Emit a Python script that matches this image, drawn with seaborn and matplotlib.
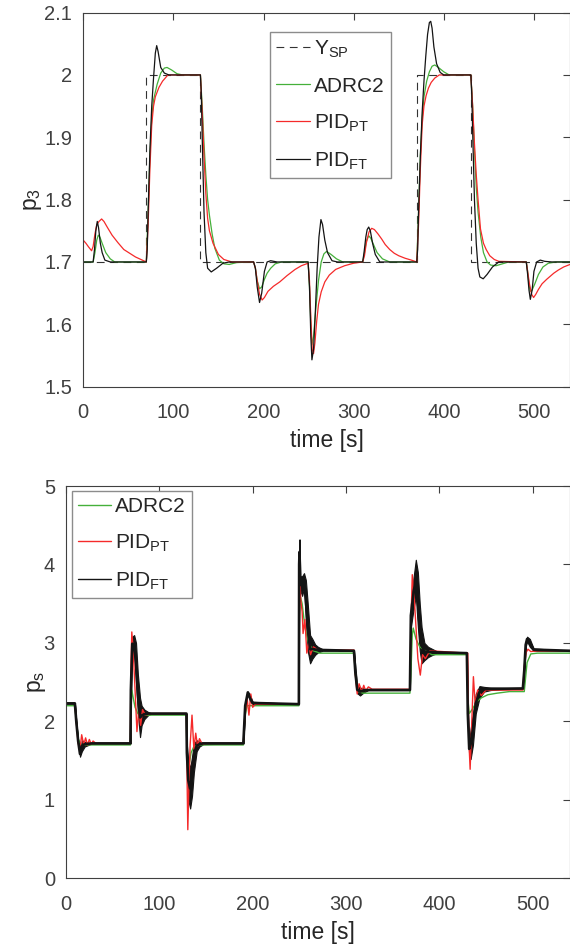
import numpy as np
import pandas as pd
import matplotlib
matplotlib.use("Agg")
import matplotlib.pyplot as plt
import seaborn as sns

# ---- top panel: p3 ----
sp_t = [0, 70, 70, 130, 130, 370, 370, 430, 430, 540]
sp_p3 = [1.7, 1.7, 2.0, 2.0, 1.7, 1.7, 2.0, 2.0, 1.7, 1.7]

ft_t = [0, 11, 12.5, 14, 15.6, 17, 19, 21, 24, 30, 70, 71, 72, 74, 76, 78, 80, 81.5, 83, 86, 90, 95,
        130, 131, 132, 134, 136, 138, 142, 148, 155, 162, 189, 191, 193, 195.6, 198, 201, 204, 208, 215,
        249.5, 251, 252.5, 253.7, 255.5, 257.5, 259.5, 261.5, 263.7, 265.5, 268, 271, 276, 282,
        310, 311.5, 313.5, 315, 316.7, 318.5, 321, 324, 329,
        370, 371, 372, 374, 376, 378, 380, 382, 384, 385.5, 387, 389, 392, 396, 400,
        430, 431, 432, 434, 436, 438, 440, 443.7, 448, 454, 461,
        491.5, 493, 494.5, 496, 498, 500, 503, 507, 512, 520, 540]
ft_p3 = [1.70, 1.70, 1.72, 1.75, 1.765, 1.755, 1.73, 1.715, 1.703, 1.70, 1.70, 1.72, 1.78, 1.88, 1.95, 1.995,
         2.035, 2.047, 2.038, 2.012, 2.003, 2.0,
         2.0, 1.97, 1.90, 1.78, 1.715, 1.69, 1.684, 1.69, 1.698, 1.70, 1.70, 1.69, 1.66, 1.635, 1.65, 1.685,
         1.70, 1.702, 1.70,
         1.70, 1.66, 1.58, 1.543, 1.56, 1.62, 1.69, 1.74, 1.768, 1.76, 1.735, 1.715, 1.702, 1.70,
         1.70, 1.715, 1.74, 1.752, 1.756, 1.75, 1.73, 1.712, 1.70,
         1.70, 1.72, 1.78, 1.87, 1.94, 1.99, 2.03, 2.065, 2.084, 2.086, 2.075, 2.045, 2.018, 2.004, 2.0,
         2.0, 1.97, 1.91, 1.80, 1.73, 1.69, 1.676, 1.673, 1.68, 1.692, 1.70,
         1.70, 1.68, 1.655, 1.640, 1.655, 1.685, 1.70, 1.703, 1.701, 1.70, 1.70]

adrc_t = [0, 11, 13, 15, 16.7, 18.5, 21, 25, 30, 35, 70, 72, 74, 76, 78, 82, 86, 90, 93, 98, 104, 110,
          130, 132, 134, 136, 138, 140, 143, 146, 151, 156, 162, 170,
          189, 191, 193, 195.6, 198, 201, 204, 208, 213, 220,
          249.5, 251, 252.5, 253.7, 255.5, 258, 261, 264, 267, 270, 275, 281, 288,
          310, 312, 314, 316.7, 319, 322, 326, 332, 340,
          370, 372, 374, 376, 378, 381, 384, 387, 390, 394, 400, 406,
          430, 432, 434, 436, 438, 441, 444, 448, 452, 458, 465, 472,
          491.5, 493, 494.5, 496, 498, 501, 505, 510, 516, 524, 540]
adrc_p3 = [1.70, 1.70, 1.715, 1.735, 1.743, 1.74, 1.73, 1.715, 1.705, 1.70, 1.70, 1.78, 1.87, 1.93, 1.96,
           1.985, 2.003, 2.011, 2.012, 2.008, 2.002, 2.0,
           2.0, 1.95, 1.89, 1.84, 1.80, 1.775, 1.745, 1.722, 1.703, 1.697, 1.696, 1.699,
           1.70, 1.69, 1.67, 1.657, 1.66, 1.672, 1.682, 1.69, 1.697, 1.70,
           1.70, 1.66, 1.60, 1.567, 1.58, 1.625, 1.67, 1.70, 1.713, 1.717, 1.712, 1.705, 1.70,
           1.70, 1.715, 1.733, 1.742, 1.738, 1.728, 1.715, 1.705, 1.70,
           1.70, 1.78, 1.87, 1.93, 1.965, 1.99, 2.005, 2.014, 2.016, 2.012, 2.005, 2.0,
           2.0, 1.95, 1.88, 1.82, 1.78, 1.74, 1.715, 1.70, 1.695, 1.694, 1.697, 1.70,
           1.70, 1.685, 1.663, 1.653, 1.655, 1.665, 1.68, 1.692, 1.698, 1.70, 1.70]

pt_t = [0, 3, 6, 9.3, 11, 13, 15, 17.5, 20.4, 23, 27, 32, 38.5, 45, 51.5, 58, 64,
        70, 72, 74, 76, 78, 80, 84, 88, 94,
        130, 132, 134, 136, 138, 140, 144, 150, 156, 165,
        189, 191, 193, 195.6, 198.5, 201, 205, 211, 218, 226, 235, 242,
        249.5, 251, 252.5, 254, 255.5, 257, 259, 261, 264, 268, 273, 280, 290, 300,
        310, 312, 314, 317, 320, 323, 327, 331, 335, 340, 345, 350, 357, 364,
        370, 372, 374, 376, 378, 380.4, 383, 386, 390, 395,
        430, 432, 434, 436, 438, 440.7, 444, 447, 451, 456, 461,
        491.5, 493, 495, 497.5, 499.6, 502, 505, 509, 514, 518, 522, 527, 533, 540]
pt_p3 = [1.735, 1.73, 1.724, 1.718, 1.725, 1.745, 1.76, 1.765, 1.769, 1.765, 1.755, 1.743, 1.731, 1.72,
         1.714, 1.708, 1.704,
         1.70, 1.76, 1.85, 1.92, 1.95, 1.965, 1.98, 1.99, 2.0,
         2.0, 1.94, 1.87, 1.81, 1.77, 1.75, 1.73, 1.712, 1.704, 1.70,
         1.70, 1.69, 1.67, 1.648, 1.639, 1.643, 1.653, 1.661, 1.668, 1.678, 1.688, 1.694,
         1.698, 1.67, 1.61, 1.56, 1.553, 1.57, 1.605, 1.632, 1.652, 1.668, 1.679, 1.688, 1.694, 1.698,
         1.70, 1.71, 1.73, 1.748, 1.754, 1.752, 1.745, 1.737, 1.728, 1.72, 1.714, 1.71, 1.706, 1.703,
         1.70, 1.76, 1.85, 1.92, 1.95, 1.967, 1.979, 1.988, 1.995, 2.0,
         2.0, 1.95, 1.89, 1.84, 1.80, 1.753, 1.73, 1.72, 1.71, 1.704, 1.701,
         1.70, 1.685, 1.665, 1.648, 1.643, 1.648, 1.656, 1.665, 1.672, 1.677, 1.682, 1.687, 1.692, 1.696]

# ---- bottom panel: ps ----
adrc_ps_t = [0, 9.5, 11, 13, 16, 20, 69, 69.6, 70.5, 72, 74, 77, 82,
             129, 129.5, 130.5, 132, 134, 137, 142, 150, 190, 191.5, 194, 198,
             249.5, 250, 251, 253, 256, 260, 265, 272, 308.5, 310, 313, 318, 325,
             368.5, 369.5, 371, 372, 375, 379, 385, 392,
             429.5, 430.5, 432, 435, 440, 445, 452, 462, 475, 489.5, 491, 494, 498, 505, 540]
adrc_ps = [2.20, 2.20, 2.0, 1.78, 1.70, 1.70, 1.70, 2.2, 2.40, 2.30, 2.18, 2.10, 2.08,
           2.08, 1.6, 1.35, 1.45, 1.60, 1.68, 1.70, 1.70, 1.70, 2.05, 2.20, 2.20,
           2.20, 3.3, 3.6, 3.5, 3.2, 3.0, 2.9, 2.87, 2.87, 2.6, 2.38, 2.36, 2.36,
           2.36, 2.6, 3.1, 3.19, 3.05, 2.95, 2.90, 2.85,
           2.85, 2.3, 2.10, 2.15, 2.25, 2.30, 2.34, 2.36, 2.38, 2.38, 2.38, 2.75, 2.86, 2.87, 2.87]

pt_ps_t = [0, 9.5, 11, 13, 15, 16.8, 19, 21, 23, 25, 27, 29, 32, 36,
           69, 69.5, 70.5, 72, 74, 76, 78, 80, 82, 85, 90,
           129, 129.8, 130.5, 131.5, 133, 135, 137, 139, 141, 143, 146, 150,
           190, 191.5, 194, 196, 198, 200, 203,
           249.5, 250.4, 251.5, 253, 254, 256, 258, 260, 262, 265, 270,
           308.5, 310, 312, 314, 317, 319, 321, 324, 328,
           368.5, 369.5, 371, 373, 375, 377, 379.6, 382, 385, 390,
           429.5, 430.5, 431.5, 433, 434.8, 436.5, 438.5, 441, 445, 450,
           489.5, 491, 493, 495, 498, 505, 540]
pt_ps = [2.23, 2.23, 2.0, 1.72, 1.65, 1.83, 1.70, 1.79, 1.70, 1.77, 1.71, 1.75, 1.72, 1.72,
         1.72, 2.6, 3.14, 2.9, 2.4, 1.87, 2.15, 1.95, 2.15, 2.08, 2.10,
         2.10, 1.2, 0.62, 1.1, 1.7, 2.08, 1.65, 1.85, 1.68, 1.78, 1.71, 1.72,
         1.72, 2.05, 2.30, 2.08, 2.35, 2.18, 2.22,
         2.22, 3.90, 3.55, 3.40, 3.12, 3.3, 2.87, 3.0, 2.85, 2.95, 2.91,
         2.91, 2.6, 2.35, 2.48, 2.38, 2.46, 2.39, 2.44, 2.41,
         2.41, 3.2, 3.87, 3.6, 3.2, 2.8, 2.59, 2.85, 2.80, 2.90,
         2.87, 2.87, 1.8, 1.39, 2.0, 2.57, 2.2, 2.4, 2.33, 2.40,
         2.40, 2.7, 2.88, 2.92, 2.89, 2.90, 2.90]

# PID_FT oscillates fast: keep lower / upper edge of the band it fills
ft_ps_t = [0, 9.5, 11, 13, 15, 17, 20, 24, 28,
           69, 69.5, 71, 73, 75, 77, 79.3, 81, 84, 88, 92,
           129, 129.5, 131, 133, 135, 137, 140, 143, 147,
           190, 192, 194.8, 197, 200,
           249.5, 249.8, 250.2, 251, 253, 255, 257, 259, 261.5, 264, 267, 270, 275,
           308.5, 310, 312, 315, 319, 324,
           368.5, 369.5, 372, 374.8, 377, 379, 381, 384, 388, 393, 398,
           429.5, 430.5, 432, 433.5, 436, 439, 443, 448, 455,
           489.5, 491, 492.5, 494, 497, 501, 540]
ft_ps_lo = [2.23, 2.23, 2.0, 1.75, 1.55, 1.62, 1.68, 1.70, 1.72,
            1.72, 2.2, 2.9, 2.85, 2.5, 2.1, 1.80, 1.95, 2.03, 2.08, 2.10,
            2.10, 1.5, 1.0, 0.89, 1.05, 1.35, 1.62, 1.68, 1.71,
            1.72, 2.2, 2.36, 2.26, 2.22,
            2.22, 3.9, 4.0, 3.67, 3.6, 3.7, 3.3, 2.9, 2.74, 2.80, 2.85, 2.88, 2.90,
            2.90, 2.55, 2.36, 2.33, 2.37, 2.40,
            2.40, 3.2, 3.4, 3.6, 3.2, 2.9, 2.74, 2.78, 2.82, 2.85, 2.87,
            2.87, 2.0, 1.55, 1.52, 1.7, 2.1, 2.3, 2.38, 2.40,
            2.42, 2.6, 2.95, 3.02, 2.95, 2.90, 2.90]
ft_ps_hi = [2.23, 2.23, 2.0, 1.75, 1.62, 1.76, 1.74, 1.73, 1.72,
            1.72, 2.6, 3.08, 3.10, 3.0, 2.6, 2.3, 2.2, 2.15, 2.12, 2.10,
            2.10, 1.7, 1.5, 1.4, 1.55, 1.72, 1.76, 1.74, 1.73,
            1.72, 2.2, 2.38, 2.34, 2.25,
            2.22, 4.1, 4.32, 3.85, 3.85, 3.89, 3.8, 3.5, 3.1, 3.05, 2.98, 2.95, 2.92,
            2.90, 2.7, 2.45, 2.43, 2.42, 2.40,
            2.40, 3.5, 3.8, 4.06, 3.9, 3.5, 3.2, 3.0, 2.95, 2.92, 2.89,
            2.87, 2.2, 1.75, 1.9, 2.1, 2.35, 2.45, 2.44, 2.43,
            2.42, 2.7, 3.0, 3.08, 3.05, 2.93, 2.90]

c_green = "#45b03a"
c_red = "#f52a2a"
c_black = "#141414"
c_axis = "#404040"

sns.set_style("white")
plt.rcParams["font.family"] = ["Liberation Sans", "DejaVu Sans"]
plt.rcParams["mathtext.default"] = "regular"
plt.rcParams["axes.edgecolor"] = c_axis
plt.rcParams["xtick.color"] = c_axis
plt.rcParams["ytick.color"] = c_axis
plt.rcParams["text.color"] = "#262626"
plt.rcParams["axes.labelcolor"] = "#262626"

fig = plt.figure(figsize=(5.7, 9.47), dpi=100)
ax1 = fig.add_axes([0.146, 0.5917, 0.854, 0.395])
ax2 = fig.add_axes([0.1158, 0.0725, 0.8842, 0.4143])

lw = 0.9
sns.lineplot(x=sp_t, y=sp_p3, ax=ax1, color="#333333", lw=0.8, ls=(0, (7, 5)),
             estimator=None, sort=False, label="Y$_{SP}$")
sns.lineplot(x=adrc_t, y=adrc_p3, ax=ax1, color=c_green, lw=lw, estimator=None, label="ADRC2")
sns.lineplot(x=pt_t, y=pt_p3, ax=ax1, color=c_red, lw=lw, estimator=None, label="PID$_{PT}$")
sns.lineplot(x=ft_t, y=ft_p3, ax=ax1, color=c_black, lw=lw, estimator=None, label="PID$_{FT}$")

ax1.set_xlim(0, 540)
ax1.set_ylim(1.5, 2.1)
ax1.set_yticks(np.arange(1.5, 2.101, 0.1))
ax1.set_yticklabels(["1.5", "1.6", "1.7", "1.8", "1.9", "2", "2.1"])
ax1.set_ylabel("p$_3$", fontsize=16.5)
ax1.yaxis.set_label_coords(-0.08, 0.5)

ft_long = pd.DataFrame({
    "t": ft_ps_t + ft_ps_t,
    "ps": ft_ps_lo + ft_ps_hi,
})
sns.lineplot(x=adrc_ps_t, y=adrc_ps, ax=ax2, color=c_green, lw=1.0, estimator=None, label="ADRC2")
sns.lineplot(x=pt_ps_t, y=pt_ps, ax=ax2, color=c_red, lw=1.0, estimator=None, label="PID$_{PT}$")
sns.lineplot(data=ft_long, x="t", y="ps", ax=ax2, color=c_black, lw=1.9,
             estimator="mean", errorbar=("pi", 100),
             err_kws={"alpha": 1.0, "linewidth": 0.8, "edgecolor": c_black},
             label="PID$_{FT}$")

ax2.set_xlim(0, 540)
ax2.set_ylim(0, 5)
ax2.set_yticks([0, 1, 2, 3, 4, 5])
ax2.set_ylabel("p$_s$", fontsize=16.5)
ax2.yaxis.set_label_coords(-0.035, 0.5)

for ax in (ax1, ax2):
    ax.set_xticks([0, 100, 200, 300, 400, 500])
    ax.set_xlabel("time [s]", fontsize=16.5, labelpad=5)
    ax.tick_params(direction="in", length=5, width=0.8, labelsize=14.5,
                   top=True, right=True, labelcolor="#404040")
    ax.tick_params(axis="x", pad=12)
    ax.tick_params(axis="y", pad=8)
    for s in ax.spines.values():
        s.set_linewidth(0.8)
        s.set_color(c_axis)

leg_kw = dict(loc="upper left", fontsize=15, frameon=True, fancybox=False, framealpha=1,
              edgecolor="#8c8c8c", handlelength=1.6, handletextpad=0.2, borderpad=0.3,
              labelspacing=0.8, borderaxespad=0)
leg1 = ax1.legend(bbox_to_anchor=(0.384, 0.947), **leg_kw)
leg1.get_frame().set_linewidth(1.0)
leg2 = ax2.legend(bbox_to_anchor=(0.011, 0.988), **leg_kw)
leg2.get_frame().set_linewidth(1.0)
for h in leg2.get_lines():
    h.set_linewidth(1.0)

fig.savefig("out.png", dpi=100)
plt.close(fig)
